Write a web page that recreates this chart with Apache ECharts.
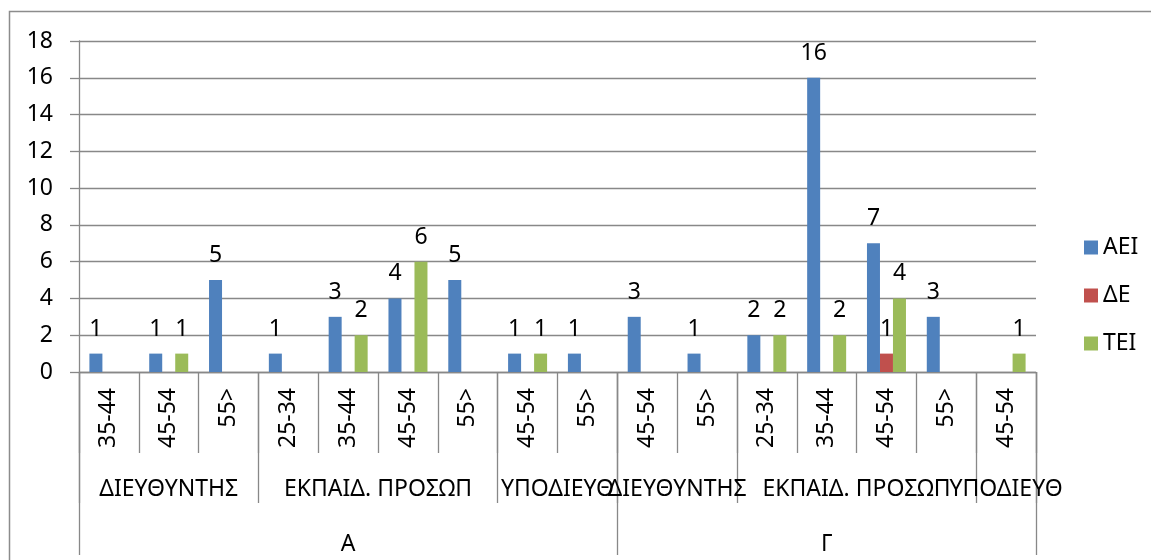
<!DOCTYPE html>
<html>
<head>
<meta charset="utf-8">
<script src="https://cdn.jsdelivr.net/npm/echarts@6/dist/echarts.min.js"></script>
<style>
  html, body { margin: 0; padding: 0; background: #fff; }
  #chart { width: 1151px; height: 560px; }
</style>
</head>
<body>
<div id="chart"></div>
<script>
// Age bands (leaf level of the category axis)
const ageBands = ['35-44', '45-54', '55>', '25-34', '35-44', '45-54', '55>', '45-54', '55>',
                  '45-54', '55>', '25-34', '35-44', '45-54', '55>', '45-54'];

// Position groups: name and span [start, end] in leaf-category units
const positionNames  = ['ΔΙΕΥΘΥΝΤΗΣ', 'ΕΚΠΑΙΔ. ΠΡΟΣΩΠ', 'ΥΠΟΔΙΕΥΘ', 'ΔΙΕΥΘΥΝΤΗΣ', 'ΕΚΠΑΙΔ. ΠΡΟΣΩΠ', 'ΥΠΟΔΙΕΥΘ'];
const positionBounds = [0, 3, 7, 9, 11, 15, 16];

// Top-level groups and their spans
const regionNames  = ['Α', 'Γ'];
const regionBounds = [0, 9, 16];

// Series values per leaf category
const seriesNames = ['ΑΕΙ', 'ΔΕ', 'ΤΕΙ'];
const aei = [1, 1, 5, 1, 3, 4, 5, 1, 1, 3, 1, 2, 16, 7, 3, 0];
const de  = [0, 0, 0, 0, 0, 0, 0, 0, 0, 0, 0, 0, 0, 1, 0, 0];
const tei = [0, 1, 0, 0, 2, 6, 0, 1, 0, 0, 0, 2, 2, 4, 0, 1];

// Value-axis ticks
const yMin = 0, yMax = 18, yStep = 2;

const colors = ['#4F81BD', '#C0504D', '#9BBB59'];
const GRAY = '#888888';
const FONT = 'Noto Sans';
const FS = 23;

function centers(bounds) {
  const c = [];
  for (let i = 0; i < bounds.length - 1; i++) c.push((bounds[i] + bounds[i + 1]) / 2);
  return c;
}

const chart = echarts.init(document.getElementById('chart'), null, { renderer: 'canvas' });

// Extra bottom axis drawing one level of the grouped category labels.
// `parity` picks every other group label (so neighbouring long labels
// may overlap freely, as they do in a spreadsheet chart); ticks are drawn
// only by the axis with withTicks = true.
function groupAxis(bounds, names, tickLen, labelMargin, parity, withTicks) {
  const c = centers(bounds);
  const picked = c.filter((_, i) => parity === null || i % 2 === parity);
  return {
    type: 'value',
    position: 'bottom',
    min: 0,
    max: ageBands.length,
    axisLine: { show: false },
    splitLine: { show: false },
    axisTick: {
      show: withTicks,
      customValues: bounds,
      length: tickLen,
      lineStyle: { color: GRAY, width: 1.3 }
    },
    axisLabel: {
      show: true,
      customValues: picked,
      formatter: v => {
        const i = c.findIndex(x => Math.abs(x - v) < 1e-6);
        return i >= 0 ? names[i] : '';
      },
      margin: labelMargin,
      color: '#000',
      fontFamily: FONT,
      fontSize: FS,
      hideOverlap: false,
      showMinLabel: true,
      showMaxLabel: true
    }
  };
}

const barSeries = [aei, de, tei].map((vals, i) => ({
  name: seriesNames[i],
  type: 'bar',
  xAxisIndex: 0,
  yAxisIndex: 0,
  data: vals,
  barWidth: 13,
  barGap: '0%',
  itemStyle: { color: colors[i] },
  label: {
    show: true,
    position: 'top',
    distance: 13,
    color: '#000',
    fontFamily: FONT,
    fontSize: FS,
    formatter: p => (p.value ? String(p.value) : '')
  }
}));

chart.setOption({
  animation: false,
  textStyle: { fontFamily: FONT },
  color: colors,
  graphic: [{
    type: 'rect',
    silent: true,
    z: -10,
    shape: { x: 9.5, y: 11.5, width: 1300, height: 700 },
    style: { fill: 'none', stroke: '#8c8c8c', lineWidth: 1.5 }
  }],
  grid: { left: 79, right: 115, top: 41, bottom: 188, containLabel: false },
  legend: {
    orient: 'vertical',
    left: 1079,
    top: 230,
    itemWidth: 14,
    itemHeight: 14,
    itemGap: 23,
    icon: 'rect',
    data: seriesNames,
    textStyle: { color: '#000', fontFamily: FONT, fontSize: FS, lineHeight: 25 }
  },
  xAxis: [
    {
      type: 'category',
      data: ageBands,
      position: 'bottom',
      axisLine: { show: true, lineStyle: { color: GRAY, width: 1.3 } },
      axisTick: { show: true, interval: 0, length: 81, lineStyle: { color: GRAY, width: 1.3 } },
      axisLabel: {
        interval: 0,
        rotate: 90,
        margin: 16,
        color: '#000',
        fontFamily: FONT,
        fontSize: FS
      },
      splitLine: { show: false }
    },
    groupAxis(positionBounds, positionNames, 131, 106, 0, true),
    groupAxis(positionBounds, positionNames, 131, 106, 1, false),
    groupAxis(regionBounds, regionNames, 183, 161, null, true)
  ],
  yAxis: {
    type: 'value',
    min: yMin,
    max: yMax,
    interval: yStep,
    axisLine: { show: true, lineStyle: { color: GRAY, width: 1.3 } },
    axisTick: { show: true, length: 9, lineStyle: { color: GRAY, width: 1.3 } },
    axisLabel: { margin: 26, color: '#000', fontFamily: FONT, fontSize: FS },
    splitLine: { show: true, lineStyle: { color: GRAY, width: 1.3 } }
  },
  series: barSeries
});
</script>
</body>
</html>
